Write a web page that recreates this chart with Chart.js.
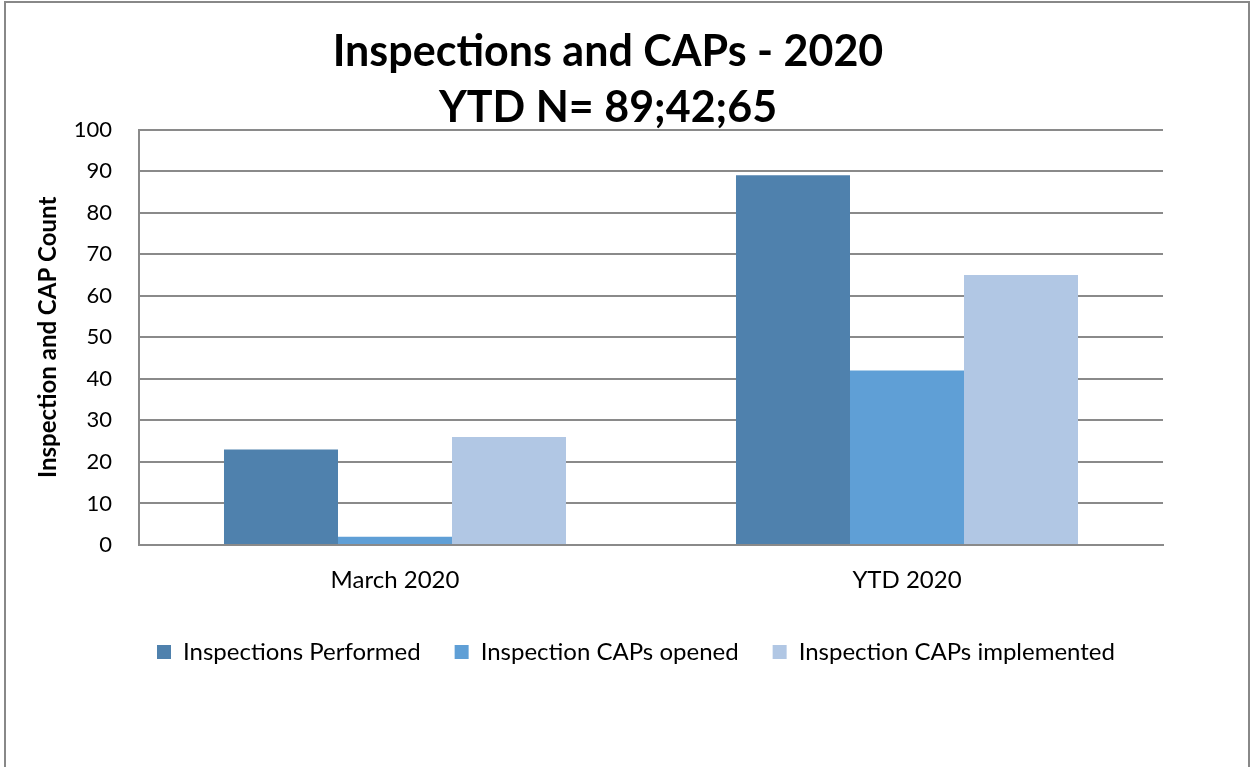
<!DOCTYPE html>
<html>
<head>
<meta charset="utf-8">
<script src="https://cdn.jsdelivr.net/npm/chart.js@4.4.0/dist/chart.umd.min.js"></script>
<style>
  html, body { margin: 0; padding: 0; background: #fff; }
  #wrap { position: absolute; left: 0; top: 0; width: 1254px; height: 767px; }
  #frame { position: absolute; left: 4px; top: 1px; width: 1246px; height: 800px; border: 2px solid #888; box-sizing: border-box; pointer-events: none; }
</style>
</head>
<body>
<div id="wrap"><canvas id="inspChart" width="1254" height="767"></canvas></div>
<div id="frame"></div>
<script>
// datos del grafico
var categories = ['March 2020', 'YTD 2020'];
var performed = [23, 89];
var capsOpened = [2, 42];
var capsImplemented = [26, 65];
var seriesNames = ['Inspections Performed', 'Inspection CAPs opened', 'Inspection CAPs implemented'];

var fontFam = 'Lato, "Open Sans", sans-serif';
var gridColor = '#8a8a8a';

// corre la leyenda un poco a la derecha (como en el original)
var legendShift = {
    id: 'legendShift',
    afterLayout: function (chart) {
        var lg = chart.legend;
        if (lg) { lg.left += 28; lg.right += 28; }
    }
};

var ctx = document.getElementById('inspChart').getContext('2d');
var inspChart = new Chart(ctx, {
    type: 'bar',
    data: {
        labels: categories,
        datasets: [{
            label: seriesNames[0],
            data: performed,
            backgroundColor: '#4F81AD'
        }, {
            label: seriesNames[1],
            data: capsOpened,
            backgroundColor: '#5F9FD6'
        }, {
            label: seriesNames[2],
            data: capsImplemented,
            backgroundColor: '#B1C7E4'
        }]
    },
    plugins: [legendShift],
    options: {
        responsive: false,
        animation: false,
        categoryPercentage: 0.668,
        barPercentage: 1.0,
        layout: {
            padding: { left: 53, right: 91, top: 0, bottom: 93 }
        },
        plugins: {
            title: {
                display: true,
                text: 'Inspections and CAPs - 2020',
                color: '#000',
                font: { family: fontFam, size: 43, weight: 'bold', lineHeight: 1.2 },
                padding: { top: 26, bottom: 9 }
            },
            subtitle: {
                display: true,
                text: 'YTD N= 89;42;65',
                color: '#000',
                font: { family: fontFam, size: 43, weight: 'bold', lineHeight: 1.0 },
                padding: { top: 0, bottom: 0 }
            },
            legend: {
                position: 'bottom',
                labels: {
                    color: '#000',
                    boxWidth: 14,
                    boxHeight: 14,
                    padding: 34,
                    font: { family: fontFam, size: 24 }
                }
            },
            tooltip: { enabled: false }
        },
        scales: {
            x: {
                grid: { display: false, drawTicks: false },
                border: { display: true, color: gridColor, width: 2 },
                ticks: {
                    color: '#000',
                    padding: 21,
                    font: { family: fontFam, size: 24 }
                },
                afterFit: function (scale) { scale.height = 61; }
            },
            y: {
                min: 0,
                max: 100,
                ticks: {
                    stepSize: 10,
                    color: '#000',
                    padding: 27,
                    font: { family: fontFam, size: 22 }
                },
                grid: { color: gridColor, lineWidth: 2, drawTicks: false },
                border: { display: true, color: gridColor, width: 2 },
                title: {
                    display: true,
                    text: 'Inspection and CAP Count',
                    color: '#000',
                    font: { family: fontFam, size: 24, weight: 'bold' },
                    padding: { top: -19, bottom: 4 }
                },
                afterFit: function (scale) { scale.width = 86; }
            }
        }
    }
});
</script>
</body>
</html>
